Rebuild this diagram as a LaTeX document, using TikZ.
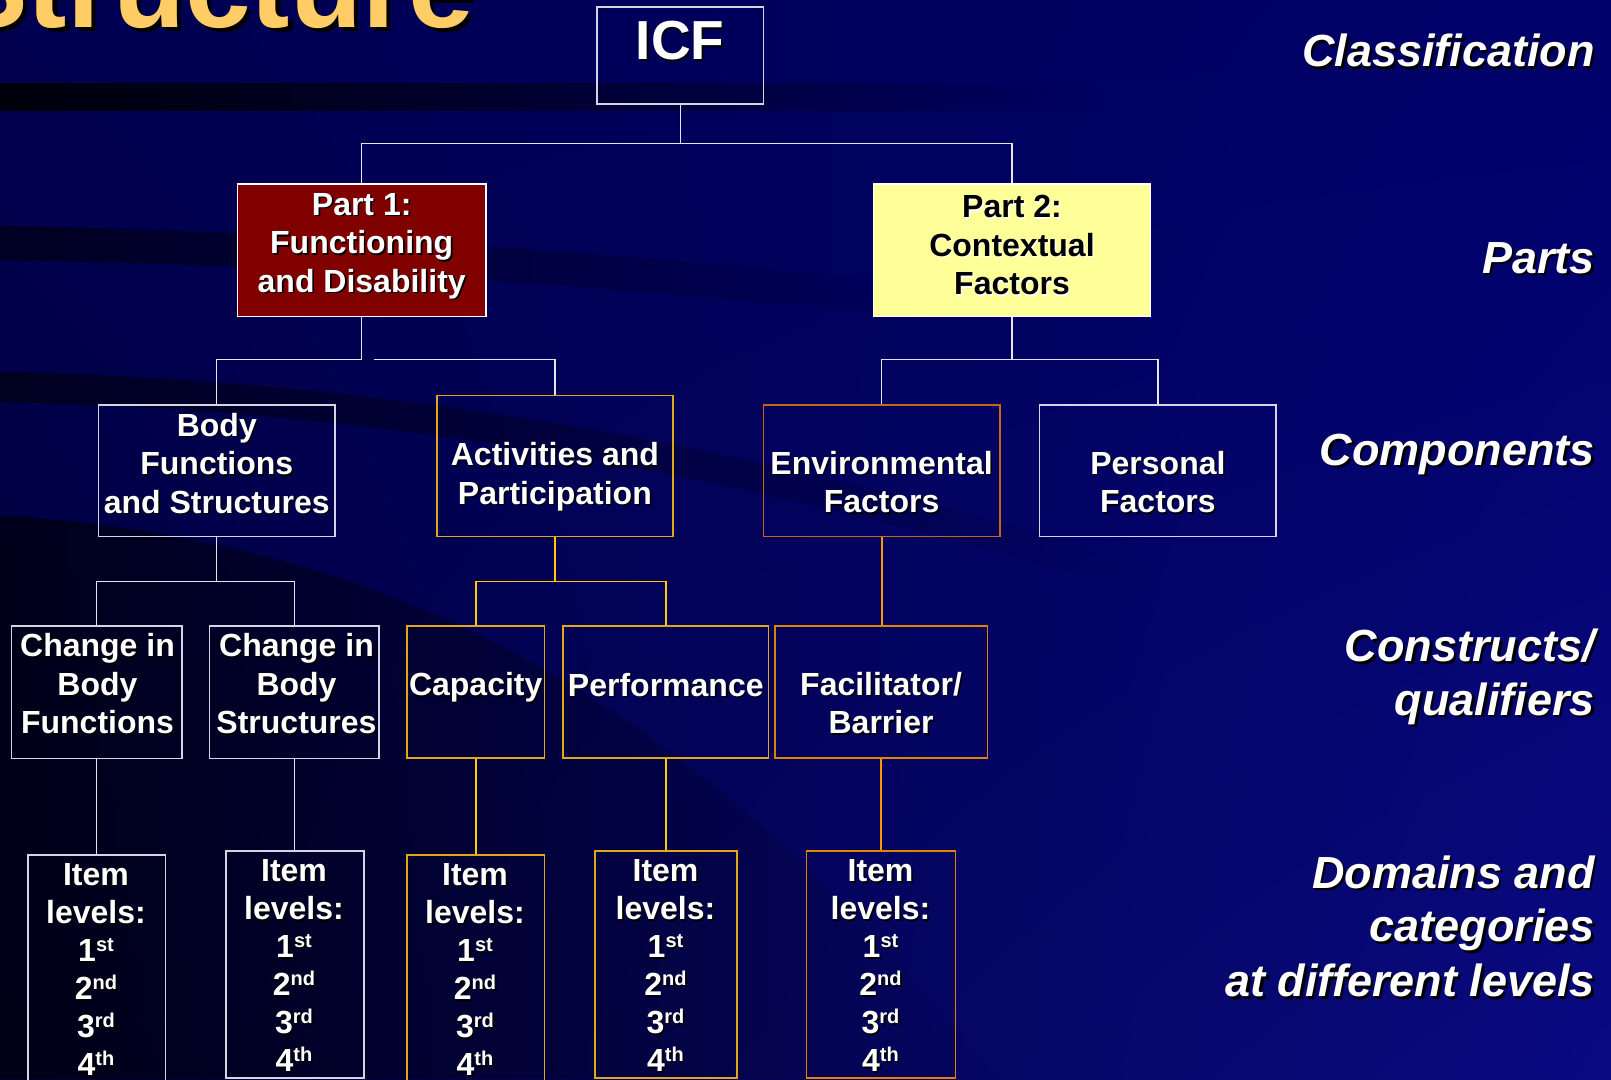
\documentclass[tikz,border=0pt]{standalone}
\usepackage{graphicx}
\usepackage{fontspec}
\setmainfont{Liberation Sans}
\usetikzlibrary{fadings,shadings}
\definecolor{bgUL}{HTML}{000050}
\definecolor{bgUR}{HTML}{00006A}
\definecolor{bgLL}{HTML}{000038}
\definecolor{bgLR}{HTML}{0A0A82}
\definecolor{linew}{HTML}{E4E4EE}
\definecolor{lineg}{HTML}{FFCC00}
\definecolor{lineo}{HTML}{FF9900}
\definecolor{boxwc}{HTML}{D4D4E4}
\definecolor{boxgc}{HTML}{E0A818}
\definecolor{boxoc}{HTML}{E08400}
\definecolor{envc}{HTML}{C46818}
\definecolor{redbox}{HTML}{800000}
\definecolor{yelbox}{HTML}{FFFF99}
\definecolor{titlec}{HTML}{FFCC66}
\newcommand{\sh}[1]{\makebox[0pt][l]{\kern1.6pt\raisebox{-1.6pt}{\textcolor{black}{#1}}}#1}
\newcommand{\shw}[1]{\makebox[0pt][l]{\kern1.4pt\raisebox{-1.4pt}{\textcolor{white}{#1}}}#1}
\newcommand{\shl}[1]{\makebox[0pt][l]{\kern2.5pt\raisebox{-2.5pt}{\textcolor{black}{#1}}}#1}
\newcommand{\shbig}[1]{\makebox[0pt][l]{\kern4.5pt\raisebox{-4.5pt}{\textcolor{black}{#1}}}#1}
\newcommand{\sps}[1]{\raisebox{10pt}{\fontsize{20}{20}\selectfont #1}}
\tikzset{
  wline/.style={draw=linew, line width=1.3pt},
  gline/.style={draw=lineg, line width=1.6pt},
  oline/.style={draw=lineo, line width=1.8pt},
  boxw/.style={draw=boxwc, line width=1.5pt, rectangle, inner sep=0pt},
  boxg/.style={draw=boxgc, line width=1.6pt, rectangle, inner sep=0pt},
  boxo/.style={draw=boxoc, line width=1.6pt, rectangle, inner sep=0pt},
  txt/.style={text=white, font=\bfseries\fontsize{32}{38.5}\selectfont, align=center, inner sep=0pt},
  itemtxt/.style={text=white, font=\bfseries\fontsize{32}{38}\selectfont, align=center, inner sep=0pt},
  lab/.style={text=white, font=\bfseries\itshape\fontsize{45}{54}\selectfont, anchor=base east, inner sep=0pt},
}
\begin{document}
\begin{tikzpicture}[x=1pt, y=-1pt]
\useasboundingbox (0,0) rectangle (1611,1079);
% background
\shade[upper left=bgUL, upper right=bgUR, lower left=bgLL, lower right=bgLR] (0,0) rectangle (1611,1079);
\fill[black, opacity=0.85, path fading=east] (0,83) rectangle (1100,111);
\draw[black, line width=34pt, opacity=0.55, path fading=east] (0,243) .. controls (300,248) and (650,270) .. (950,305);
\draw[black, line width=30pt, opacity=0.55, path fading=east] (0,387) .. controls (400,395) and (750,460) .. (1150,580);
\fill[black, opacity=0.6, path fading=east] (0,515) .. controls (400,540) and (700,700) .. (1000,1079) -- (0,1079) -- cycle;

% title
\node[anchor=base east, inner sep=0pt, text=titlec, font=\bfseries\fontsize{118}{120}\selectfont] (title) at (474,27) {\shbig{Structure}};

% boxes
\node[boxw, minimum width=166.5pt, minimum height=96.6pt] (icf) at (680.2,55.5) {};
\node[boxw, fill=redbox, draw=white, minimum width=248.7pt, minimum height=132.5pt] (p1) at (361.7,250.2) {};
\node[boxw, fill=yelbox, draw=white, minimum width=277.4pt, minimum height=132.5pt] (p2) at (1012.0,250.2) {};
\node[boxw, minimum width=236.3pt, minimum height=131.5pt] (bf) at (216.8,470.6) {};
\node[boxg, minimum width=236.3pt, minimum height=140.7pt] (ap) at (554.9,466.0) {};
\node[boxo, draw=envc, minimum width=236.3pt, minimum height=131.5pt] (ef) at (881.6,470.6) {};
\node[boxw, minimum width=236.4pt, minimum height=131.5pt] (pf) at (1157.9,470.6) {};
\node[boxw, minimum width=170.6pt, minimum height=132.5pt] (cbf) at (96.6,692.0) {};
\node[boxw, minimum width=169.5pt, minimum height=132.5pt] (cbs) at (294.4,692.0) {};
\node[boxg, minimum width=137.6pt, minimum height=132.5pt] (cap) at (475.7,692.0) {};
\node[boxg, minimum width=205.5pt, minimum height=132.5pt] (per) at (665.8,692.0) {};
\node[boxo, minimum width=212.7pt, minimum height=132.5pt] (fb) at (881.1,692.0) {};
\node[boxw, minimum width=137.7pt, minimum height=228.2pt] (i1) at (96.6,968.9) {};
\node[boxw, minimum width=137.7pt, minimum height=227.3pt] (i2) at (294.9,964.4) {};
\node[boxg, minimum width=137.6pt, minimum height=228.2pt] (i3) at (475.7,968.9) {};
\node[boxg, minimum width=141.8pt, minimum height=227.3pt] (i4) at (665.8,964.4) {};
\node[boxo, minimum width=149.0pt, minimum height=227.3pt] (i5) at (881.0,964.4) {};

% connectors
\coordinate (j1) at (680.2,143.8);
\draw[wline] (icf.south) -- (j1);
\draw[wline] (p1.north) |- (j1) -| (p2.north);
\coordinate (j2) at (361.7,359.6);
\coordinate (j2b) at (374.0,359.6);
\draw[wline] (p1.south) -- (j2) -| (bf.north);
\draw[wline] (j2b) -| (ap.north);
\coordinate (j3) at (1012.0,359.6);
\draw[wline] (p2.south) -- (j3);
\draw[wline] (ef.north) |- (j3) -| (pf.north);
\coordinate (j4) at (216.8,581.5);
\draw[wline] (bf.south) -- (j4);
\draw[wline] (cbf.north) |- (j4) -| (cbs.north);
\coordinate (j5) at (554.9,581.5);
\draw[gline] (ap.south) -- (j5);
\draw[gline] (cap.north) |- (j5) -| (per.north);
\draw[oline] (ef.south) -- (ef.south |- fb.north);
\draw[wline] (cbf.south) -- (i1.north);
\draw[wline] (cbs.south) -- (cbs.south |- i2.north);
\draw[gline] (cap.south) -- (i3.north);
\draw[gline] (per.south) -- (i4.north);
\draw[oline] (fb.south) -- (fb.south |- i5.north);

% texts
\node[txt, font=\bfseries\fontsize{55}{60}\selectfont, anchor=base] (icft) at (680.2,59.6) {\sh{ICF}};
\node[txt] (p1t) at (361.7,247) {\sh{Part 1:}\\\sh{Functioning}\\\sh{and Disability}};
\node[txt, text=black] (p2t) at (1012.0,246) {\shw{Part 2:}\\\shw{Contextual}\\\shw{Factors}};
\node[txt] (bft) at (216.8,464) {\sh{Body}\\\sh{Functions}\\\sh{and Structures}};
\node[txt] (apt) at (554.9,477.6) {\sh{Activities and}\\\sh{Participation}};
\node[txt] (eft) at (881.6,483) {\sh{Environmental}\\\sh{Factors}};
\node[txt] (pft) at (1157.9,483) {\sh{Personal}\\\sh{Factors}};
\node[txt] (cbft) at (97.5,684.8) {\sh{Change in}\\\sh{Body}\\\sh{Functions}};
\node[txt] (cbst) at (296.5,684.8) {\sh{Change in}\\\sh{Body}\\\sh{Structures}};
\node[txt] (capt) at (475.7,688.5) {\sh{Capacity}};
\node[txt] (pert) at (665.8,685.5) {\sh{Performance}};
\node[txt] (fbt) at (881.1,704) {\sh{Facilitator/}\\\sh{Barrier}};
\node[itemtxt] (i1t) at (96.0,970.4) {\sh{Item}\\\sh{levels:}\\\sh{1\sps{st}}\\\sh{2\sps{nd}}\\\sh{3\sps{rd}}\\\sh{4\sps{th}}};
\node[itemtxt] (i2t) at (294.0,966.3) {\sh{Item}\\\sh{levels:}\\\sh{1\sps{st}}\\\sh{2\sps{nd}}\\\sh{3\sps{rd}}\\\sh{4\sps{th}}};
\node[itemtxt] (i3t) at (475.0,970.4) {\sh{Item}\\\sh{levels:}\\\sh{1\sps{st}}\\\sh{2\sps{nd}}\\\sh{3\sps{rd}}\\\sh{4\sps{th}}};
\node[itemtxt] (i4t) at (665.5,966.3) {\sh{Item}\\\sh{levels:}\\\sh{1\sps{st}}\\\sh{2\sps{nd}}\\\sh{3\sps{rd}}\\\sh{4\sps{th}}};
\node[itemtxt] (i5t) at (880.5,966.3) {\sh{Item}\\\sh{levels:}\\\sh{1\sps{st}}\\\sh{2\sps{nd}}\\\sh{3\sps{rd}}\\\sh{4\sps{th}}};

% right labels
\node[lab] (l1) at (1595,66.7) {\shl{Classification}};
\node[lab] (l2) at (1595,273.3) {\shl{Parts}};
\node[lab] (l3) at (1595,465) {\shl{Components}};
\node[lab] (l4a) at (1595,661.7) {\shl{Constructs/}};
\node[lab] (l4b) at (1595,715) {\shl{qualifiers}};
\node[lab] (l5a) at (1595,888) {\shl{Domains and}};
\node[lab] (l5b) at (1595,941.7) {\shl{categories}};
\node[lab] (l5c) at (1595,996.7) {\shl{at different levels}};
\end{tikzpicture}
\end{document}
